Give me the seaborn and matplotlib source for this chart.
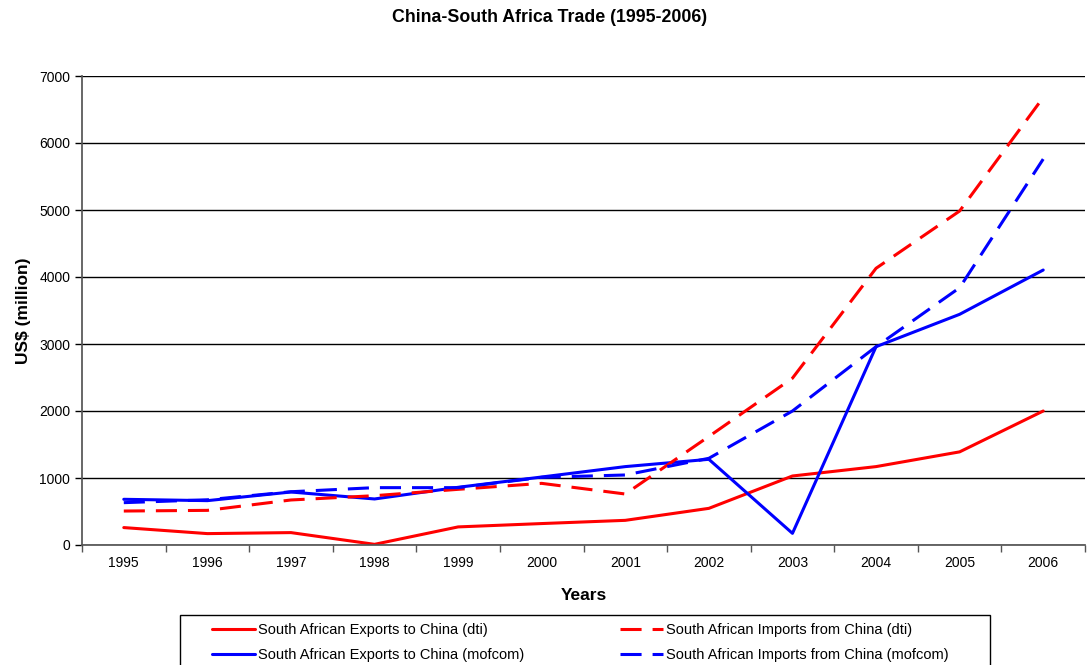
import matplotlib
matplotlib.use('Agg')
import matplotlib.pyplot as plt
import matplotlib.patches as mpatches
import pandas as pd
import seaborn as sns

# Data (US$ million)
years = ['1995', '1996', '1997', '1998', '1999', '2000',
         '2001', '2002', '2003', '2004', '2005', '2006']
exports_dti = [260, 170, 185, 10, 270, 320, 368, 547, 1030, 1170, 1390, 2000]
imports_dti = [507, 517, 672, 736, 831, 920, 761, 1620, 2490, 4130, 4985, 6680]
exports_mofcom = [682, 662, 791, 687, 861, 1015, 1170, 1279, 174, 2960, 3443, 4104]
imports_mofcom = [632, 675, 795, 856, 856, 1010, 1045, 1294, 2000, 2960, 3840, 5760]

df = pd.DataFrame({
    'pos': range(len(years)),
    'South African Exports to China (dti)': exports_dti,
    'South African Exports to China (mofcom)': exports_mofcom,
    'South African Imports from China (dti)': imports_dti,
    'South African Imports from China (mofcom)': imports_mofcom,
})

dash = (0, (6.9, 3.6))
styles = {
    'South African Exports to China (dti)': ('#ff0000', '-'),
    'South African Exports to China (mofcom)': ('#0000ff', '-'),
    'South African Imports from China (dti)': ('#ff0000', dash),
    'South African Imports from China (mofcom)': ('#0000ff', dash),
}

sns.set_theme(style='white')
plt.rcParams['font.family'] = ['Liberation Sans', 'DejaVu Sans']
plt.rcParams['text.color'] = 'black'
plt.rcParams['axes.labelcolor'] = 'black'

fig = plt.figure(figsize=(10.88, 6.65), dpi=100)
ax = fig.add_axes([82 / 1088, 1 - 545 / 665, (1085 - 82) / 1088, (545 - 76) / 665])

for name, (color, ls) in styles.items():
    sns.lineplot(x='pos', y=name, data=df, ax=ax, color=color,
                 linestyle=ls, linewidth=2.2, label=name, legend=False)

ax.set_xlim(-0.5, 11.36)
ax.set_ylim(0, 7000)
ax.set_yticks(range(0, 7001, 1000))
ax.set_xticks(range(len(years)))
ax.set_xticklabels(years)
ax.set_xticks([i - 0.5 for i in range(len(years) + 1)], minor=True)
ax.tick_params(axis='x', which='major', length=0, labelsize=10, pad=8, colors='black')
ax.tick_params(axis='x', which='minor', length=5, width=1, direction='out', color='#555555', bottom=True)
ax.tick_params(axis='y', length=5, width=1, direction='out', labelsize=10, colors='black', left=True)
ax.yaxis.grid(True, color='black', linewidth=1)
ax.set_axisbelow(True)

for side in ['top', 'right']:
    ax.spines[side].set_visible(False)
ax.spines['left'].set_color('#555555')
ax.spines['bottom'].set_color('#555555')

ax.set_xlabel('Years', fontsize=12.5, fontweight='bold', labelpad=13)
ax.set_ylabel('US$ (million)', fontsize=12.5, fontweight='bold', labelpad=6)
fig.suptitle('China-South Africa Trade (1995-2006)', fontsize=12.8,
             fontweight='bold', x=550 / 1088, y=1 - 17 / 665, va='center')

# legend frame (runs off the bottom edge like the reference)
fig.patches.append(mpatches.Rectangle((180 / 1088, -0.1), 810 / 1088, 0.1 + 1 - 615 / 665,
                                      transform=fig.transFigure, fill=False,
                                      edgecolor='black', linewidth=1))

handles, labels = ax.get_legend_handles_labels()
leg = fig.legend(handles, labels, loc='upper left', ncol=2,
                 bbox_to_anchor=(212 / 1088, 1 - 623 / 665),
                 fontsize=10.5, frameon=False,
                 handlelength=2.95, handletextpad=0.2, borderaxespad=0,
                 labelspacing=0.77, borderpad=0, columnspacing=6.55)

fig.savefig('out.png', dpi=100)
